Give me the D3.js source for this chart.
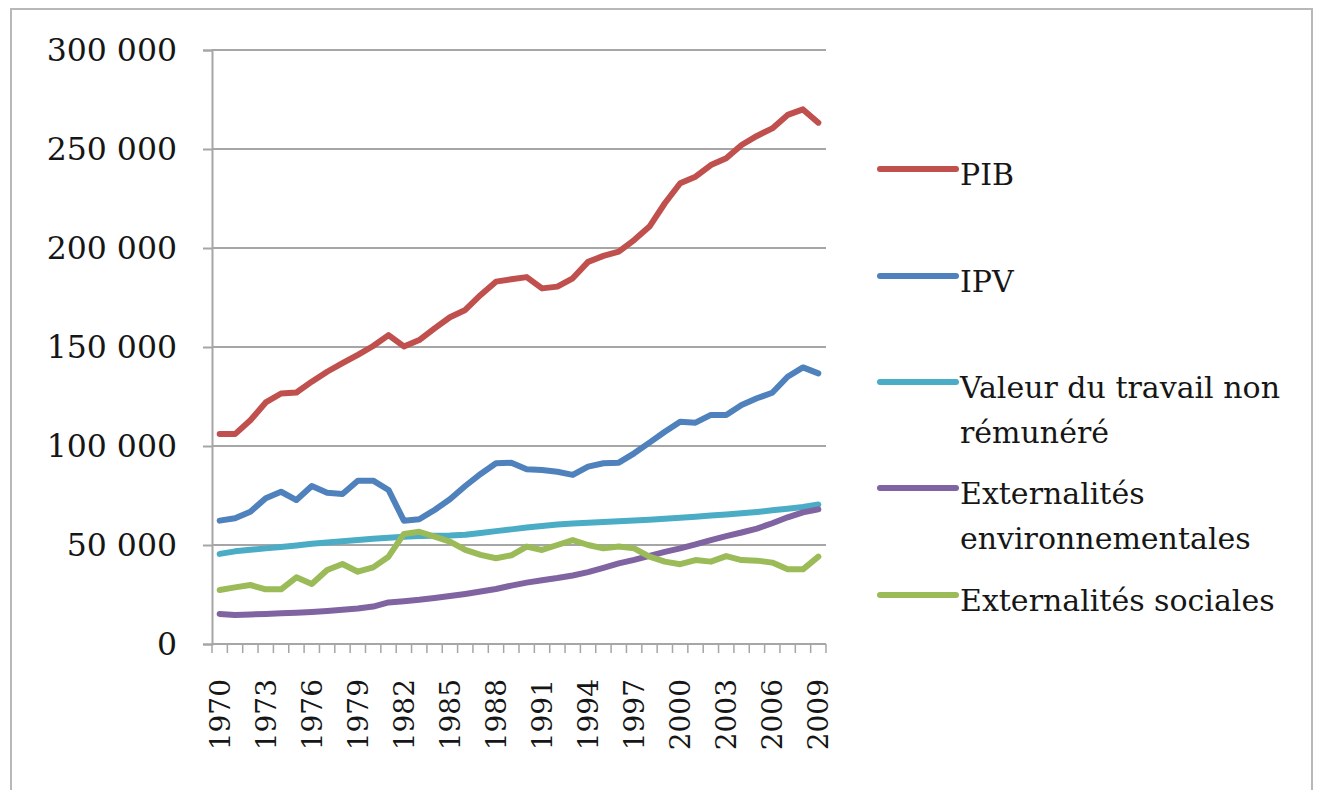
<!DOCTYPE html>
<html>
<head>
<meta charset="utf-8">
<script src="https://cdn.jsdelivr.net/npm/d3@7"></script>
<style>
  body { margin: 0; background: #fff; }
  text { font-family: "DejaVu Serif", serif; fill: #161616; }
</style>
</head>
<body>
<svg id="chart"></svg>
<script>
let years = d3.range(1970, 2010);

let pib = [106000, 106000, 113000, 122000, 126500, 127000, 132500, 137500, 141800, 146000,
           150500, 156000, 150300, 153500, 159400, 165000, 168700, 176300, 183000, 184200,
           185300, 179600, 180500, 184700, 193000, 196000, 198200, 204000, 210800, 222600,
           232700, 236000, 241900, 245300, 252000, 256600, 260400, 267200, 270000, 263300];

let ipv = [62300, 63500, 66800, 73600, 76900, 72700, 79800, 76400, 75800, 82500,
           82500, 77800, 62300, 63000, 67700, 73100, 79800, 85900, 91300, 91500,
           88200, 87900, 87000, 85400, 89600, 91300, 91600, 96300, 101700, 107200,
           112300, 111800, 115700, 115700, 120700, 124100, 126900, 135000, 139700, 136700];

let travail = [45500, 46800, 47600, 48300, 49000, 49800, 50600, 51300, 51900, 52500,
               53200, 53700, 54200, 54500, 54700, 54800, 55200, 56100, 57000, 57900,
               58800, 59600, 60300, 60800, 61200, 61600, 62000, 62400, 62800, 63300,
               63800, 64300, 64900, 65400, 66000, 66700, 67500, 68300, 69200, 70500];

let extEnv = [15200, 14700, 14900, 15200, 15500, 15800, 16200, 16700, 17300, 17900,
              18900, 21000, 21600, 22300, 23200, 24200, 25300, 26500, 27800, 29500,
              31000, 32200, 33300, 34600, 36300, 38500, 40700, 42500, 44500, 46500,
              48300, 50300, 52500, 54500, 56300, 58300, 61000, 64000, 66500, 68000];

let extSoc = [27300, 28600, 29800, 27600, 27600, 33700, 30300, 37400, 40400, 36500,
              38700, 44100, 55600, 56700, 54200, 51700, 47500, 45000, 43300, 44800,
              49200, 47500, 50000, 52500, 50000, 48300, 49200, 48300, 44100, 41600,
              40300, 42400, 41600, 44400, 42400, 42100, 41100, 37700, 37700, 44100];

let seriesNames = ["PIB", "IPV", "Valeur du travail non rémunéré",
                   "Externalités environnementales", "Externalités sociales"];
let legendLines = [["PIB"], ["IPV"], ["Valeur du travail non", "rémunéré"],
                   ["Externalités", "environnementales"], ["Externalités sociales"]];
let colors = ["#C0504D", "#4F81BD", "#4BACC6", "#8064A2", "#9BBB59"];
let yTicks = [0, 50000, 100000, 150000, 200000, 250000, 300000];

let seriesValues = [pib, ipv, travail, extEnv, extSoc];

let width = 1320;
let height = 790;
let plotLeft = 212, plotRight = 826, plotTop = 50, plotBottom = 644;

let svg = d3.select('#chart')
        .attr('width', width)
        .attr('height', height);

// outer frame
svg.append('rect')
        .attr('x', 11).attr('y', 9)
        .attr('width', 1301).attr('height', 800)
        .attr('fill', 'none')
        .attr('stroke', '#b8b8b8')
        .attr('stroke-width', 2);

let xScale = d3.scalePoint()
        .domain(years)
        .range([plotLeft, plotRight])
        .padding(0.5);

let yScale = d3.scaleLinear()
        .domain([0, 300000])
        .range([plotBottom, plotTop]);

let step = xScale.step();

// gridlines
svg.append('g')
        .selectAll('line')
        .data(yTicks.filter(d => d > 0))
        .enter()
        .append('line')
        .attr('x1', plotLeft).attr('x2', plotRight)
        .attr('y1', d => yScale(d)).attr('y2', d => yScale(d))
        .attr('stroke', '#a6a6a6')
        .attr('stroke-width', 2);

// y axis
let yAxis = d3.axisLeft(yScale)
        .tickValues(yTicks)
        .tickSize(9)
        .tickPadding(26)
        .tickFormat(d => d3.format(',')(d).replace(/,/g, ' '));

let gy = svg.append('g')
        .attr('transform', 'translate(' + plotLeft + ',0)')
        .call(yAxis);
gy.select('.domain').attr('stroke', '#a6a6a6').attr('stroke-width', 2);
gy.selectAll('.tick line').attr('stroke', '#a6a6a6').attr('stroke-width', 2);
gy.selectAll('.tick text')
        .style('font-size', '31.5px')
        .attr('fill', '#161616');

// x axis: ticks at category boundaries
let gx = svg.append('g');
gx.append('line')
        .attr('x1', plotLeft).attr('x2', plotRight)
        .attr('y1', plotBottom).attr('y2', plotBottom)
        .attr('stroke', '#a6a6a6')
        .attr('stroke-width', 2);
gx.selectAll('line.tk')
        .data(d3.range(years.length + 1))
        .enter()
        .append('line')
        .attr('class', 'tk')
        .attr('x1', i => plotLeft + i * step).attr('x2', i => plotLeft + i * step)
        .attr('y1', plotBottom).attr('y2', plotBottom + 9)
        .attr('stroke', '#a6a6a6')
        .attr('stroke-width', 1.5);
gx.selectAll('text')
        .data(years.filter((d, i) => i % 3 === 0))
        .enter()
        .append('text')
        .attr('transform', d => 'translate(' + (xScale(d) + 10) + ',' + (plotBottom + 35) + ') rotate(-90)')
        .style('text-anchor', 'end')
        .style('font-size', '28px')
        .text(d => d);

// lines
let line = d3.line()
        .x((d, i) => xScale(years[i]))
        .y(d => yScale(d));

svg.append('g')
        .selectAll('path')
        .data(seriesValues)
        .enter()
        .append('path')
        .attr('d', d => line(d))
        .attr('fill', 'none')
        .attr('stroke', (d, i) => colors[i])
        .attr('stroke-width', 6)
        .attr('stroke-linejoin', 'round')
        .attr('stroke-linecap', 'round');

// legend
let legendY = [169, 276, 382, 488, 595];
let legend = svg.append('g')
        .selectAll('g')
        .data(seriesNames)
        .enter()
        .append('g')
        .attr('transform', (d, i) => 'translate(880,' + legendY[i] + ')');

legend.append('line')
        .attr('x1', 0).attr('x2', 76)
        .attr('y1', 0).attr('y2', 0)
        .attr('stroke', (d, i) => colors[i])
        .attr('stroke-width', 6)
        .attr('stroke-linecap', 'round');

legend.append('text')
        .attr('x', 80)
        .attr('y', 16)
        .style('font-size', '30px')
        .each(function(d, i) {
            d3.select(this).selectAll('tspan')
                .data(legendLines[i])
                .enter()
                .append('tspan')
                .attr('x', 80)
                .attr('dy', (t, j) => j === 0 ? 0 : 45)
                .text(t => t);
        });
</script>
</body>
</html>
